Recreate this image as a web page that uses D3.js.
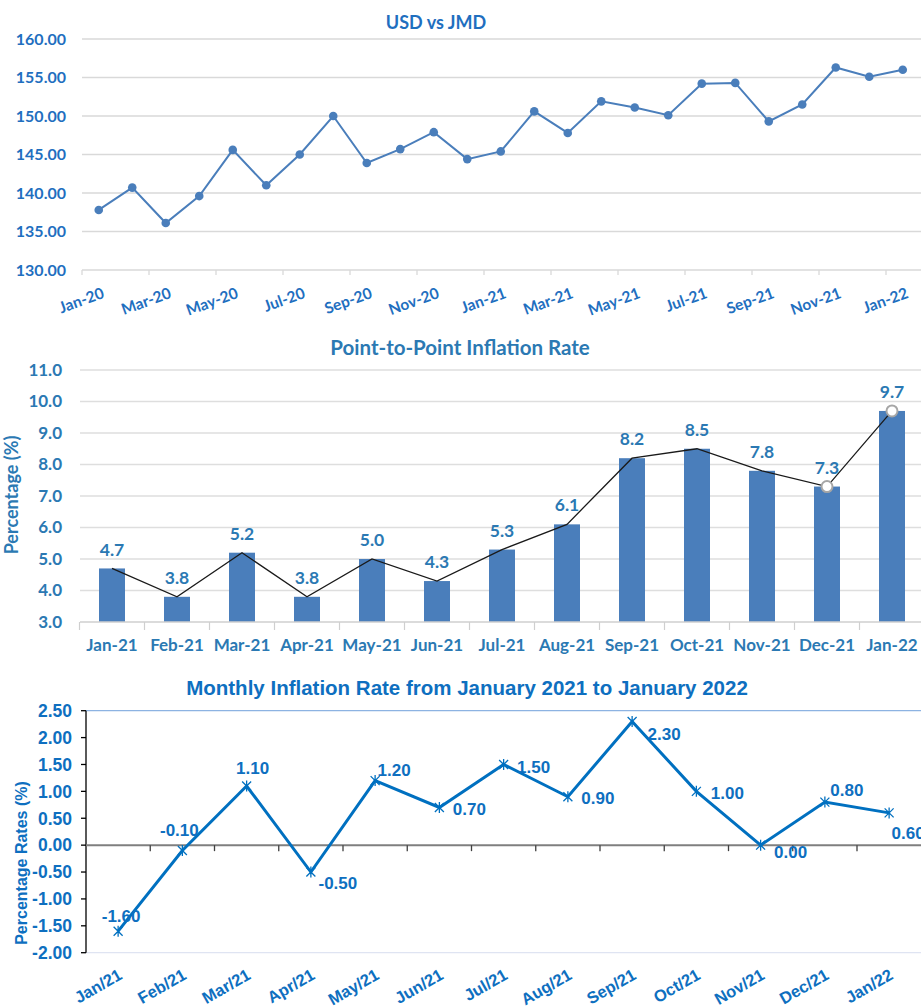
<!DOCTYPE html>
<html>
<head>
<meta charset="utf-8">
<script src="https://cdn.jsdelivr.net/npm/d3@7"></script>
<style>
  html, body { margin: 0; padding: 0; background: #ffffff; }
  svg { display: block; }
</style>
</head>
<body>
<svg id="chart" width="921" height="1007"></svg>
<script>
// ---------------- DATA ----------------
// Chart 1: USD vs JMD
const fxMonths = ["Jan-20","Feb-20","Mar-20","Apr-20","May-20","Jun-20","Jul-20","Aug-20","Sep-20","Oct-20","Nov-20","Dec-20",
                  "Jan-21","Feb-21","Mar-21","Apr-21","May-21","Jun-21","Jul-21","Aug-21","Sep-21","Oct-21","Nov-21","Dec-21","Jan-22"];
const fxRates = [137.8,140.7,136.1,139.6,145.6,141.0,145.0,150.0,143.9,145.7,147.9,144.4,
                 145.4,150.6,147.8,151.9,151.1,150.1,154.2,154.3,149.3,151.5,156.3,155.1,156.0];
const fxTicks = [130,135,140,145,150,155,160];

// Chart 2: Point-to-Point Inflation Rate
const p2pMonths = ["Jan-21","Feb-21","Mar-21","Apr-21","May-21","Jun-21","Jul-21","Aug-21","Sep-21","Oct-21","Nov-21","Dec-21","Jan-22"];
const p2pRates = [4.7,3.8,5.2,3.8,5.0,4.3,5.3,6.1,8.2,8.5,7.8,7.3,9.7];
const p2pTicks = [3,4,5,6,7,8,9,10,11];
const p2pMarked = ["Dec-21","Jan-22"];

// Chart 3: Monthly Inflation Rate
const monMonths = ["Jan/21","Feb/21","Mar/21","Apr/21","May/21","Jun/21","Jul/21","Aug/21","Sep/21","Oct/21","Nov/21","Dec/21","Jan/22"];
const monRates = [-1.60,-0.10,1.10,-0.50,1.20,0.70,1.50,0.90,2.30,1.00,0.00,0.80,0.60];
const monTicks = [-2,-1.5,-1,-0.5,0,0.5,1,1.5,2,2.5];
// label placement (style only): offsets from each point
const monLabelOffsets = [[3,-15],[-3,-21],[6,-18],[27,11],[19,-11],[30,1],[30,2],[30,1],[32,12],[31,2],[30,7],[22,-12],[19,20]];

// ---------------- DRAW ----------------
const svg = d3.select("#chart");

// ===== Chart 1 =====
(function(){
  const font = "Lato, 'Open Sans', sans-serif";
  const textCol = "#1f6fbf";
  const lineCol = "#4a7ebb";
  const g = svg.append("g");
  const x = d3.scaleBand().domain(fxMonths).range([82, 82 + 25*33.5]).padding(0);
  const y = d3.scaleLinear().domain([130,160]).range([270,39]);

  g.append("text").attr("x", 436).attr("y", 29).attr("text-anchor","middle")
    .attr("font-family", font).attr("font-weight", 700).attr("font-size", 18)
    .attr("fill", textCol).text("USD vs JMD");

  // grid
  g.selectAll("line.grid").data(fxTicks).join("line")
    .attr("x1", 82).attr("x2", 921)
    .attr("y1", d => y(d)).attr("y2", d => y(d))
    .attr("stroke", "#d9d9d9").attr("stroke-width", 1.3);

  // y labels
  g.selectAll("text.yl").data(fxTicks).join("text")
    .attr("x", 66).attr("y", d => y(d)).attr("dy","0.35em")
    .attr("text-anchor","end").attr("font-family", font).attr("font-weight",700)
    .attr("font-size", 16).attr("fill", textCol).text(d => d.toFixed(2));

  // x ticks every 2 categories
  const tickMonths = fxMonths.filter((d,i) => i % 2 === 0);
  g.selectAll("line.xt").data(tickMonths).join("line")
    .attr("x1", d => x(d)).attr("x2", d => x(d))
    .attr("y1", 270).attr("y2", 275).attr("stroke","#d9d9d9").attr("stroke-width",1.3);

  g.selectAll("text.xl").data(tickMonths).join("text")
    .attr("transform", d => `translate(${x(d)+x.bandwidth()/2+2},${285}) rotate(-20)`)
    .attr("dy","0.85em").attr("text-anchor","end")
    .attr("font-family", font).attr("font-weight",700).attr("font-size",15.5)
    .attr("fill", textCol).text(d => d);

  const line = d3.line().x((d,i) => x(fxMonths[i]) + x.bandwidth()/2).y(d => y(d));
  g.append("path").datum(fxRates).attr("d", line)
    .attr("fill","none").attr("stroke", lineCol).attr("stroke-width", 2);
  g.selectAll("circle.pt").data(fxRates).join("circle")
    .attr("cx", (d,i) => x(fxMonths[i]) + x.bandwidth()/2).attr("cy", d => y(d))
    .attr("r", 4.3).attr("fill", lineCol);
})();

// ===== Chart 2 =====
(function(){
  const font = "Lato, 'Open Sans', sans-serif";
  const textCol = "#2b79b3";
  const barCol = "#4a7ebb";
  const g = svg.append("g");
  const x = d3.scaleBand().domain(p2pMonths).range([79.5, 79.5 + 13*65]).padding(0);
  const y = d3.scaleLinear().domain([3,11]).range([622,370]);
  const bw = x.bandwidth()*0.4;

  g.append("text").attr("x", 460).attr("y", 355).attr("text-anchor","middle")
    .attr("font-family", font).attr("font-weight", 700).attr("font-size", 20.5)
    .attr("fill", textCol).text("Point-to-Point Inflation Rate");

  g.selectAll("line.grid").data(p2pTicks.filter(d => d > 3)).join("line")
    .attr("x1", 80).attr("x2", 921)
    .attr("y1", d => y(d)).attr("y2", d => y(d))
    .attr("stroke", "#dedede").attr("stroke-width", 1.3);

  g.selectAll("text.yl").data(p2pTicks).join("text")
    .attr("x", 62).attr("y", d => y(d)).attr("dy","0.35em")
    .attr("text-anchor","end").attr("font-family", font).attr("font-weight",700)
    .attr("font-size", 17).attr("fill", textCol).text(d => d.toFixed(1));

  g.append("text").attr("transform","translate(18,495) rotate(-90)")
    .attr("text-anchor","middle").attr("font-family", font).attr("font-weight",700)
    .attr("font-size", 18).attr("fill", textCol).text("Percentage (%)");

  // bars
  g.selectAll("rect.bar").data(p2pRates).join("rect")
    .attr("x", (d,i) => x(p2pMonths[i]) + x.bandwidth()/2 - bw/2)
    .attr("y", d => y(d)).attr("width", bw).attr("height", d => y(3) - y(d))
    .attr("fill", barCol);

  // axis line + separators
  g.append("line").attr("x1", 80).attr("x2", 921).attr("y1", 622).attr("y2", 622)
    .attr("stroke", "#cfcfcf").attr("stroke-width", 1.3);
  g.selectAll("line.sep").data(p2pMonths).join("line")
    .attr("x1", d => x(d)).attr("x2", d => x(d)).attr("y1", 622).attr("y2", 630)
    .attr("stroke", "#cfcfcf").attr("stroke-width", 1.2);

  g.selectAll("text.xl").data(p2pMonths).join("text")
    .attr("x", d => x(d) + x.bandwidth()/2).attr("y", 651)
    .attr("text-anchor","middle").attr("font-family", font).attr("font-weight",700)
    .attr("font-size", 17).attr("fill", textCol).text(d => d);

  const line = d3.line().x((d,i) => x(p2pMonths[i]) + x.bandwidth()/2).y(d => y(d));
  g.append("path").datum(p2pRates).attr("d", line)
    .attr("fill","none").attr("stroke", "#1a1a1a").attr("stroke-width", 1.3);

  g.selectAll("circle.mk").data(p2pRates.map((v,i) => [p2pMonths[i], v]).filter(d => p2pMarked.includes(d[0]))).join("circle")
    .attr("cx", d => x(d[0]) + x.bandwidth()/2).attr("cy", d => y(d[1]))
    .attr("r", 5.5).attr("fill", "#ffffff").attr("stroke","#a6a6a6").attr("stroke-width", 2);

  g.selectAll("text.lbl").data(p2pRates).join("text")
    .attr("x", (d,i) => x(p2pMonths[i]) + x.bandwidth()/2).attr("y", d => y(d) - 19)
    .attr("dy","0.35em").attr("text-anchor","middle").attr("font-family", font).attr("font-weight",700)
    .attr("font-size", 17.5).attr("fill", textCol).text(d => d.toFixed(1));
})();

// ===== Chart 3 =====
(function(){
  const font = "'Liberation Sans', Arial, sans-serif";
  const textCol = "#0e6fc0";
  const lineCol = "#0070c0";
  const g = svg.append("g");
  const x = d3.scaleBand().domain(monMonths).range([86, 86 + 13*64.25]).padding(0);
  const y = d3.scaleLinear().domain([-2,2.5]).range([952.7,710.7]);

  g.append("text").attr("x", 467).attr("y", 695).attr("text-anchor","middle")
    .attr("font-family", font).attr("font-weight", 700).attr("font-size", 20.5)
    .attr("fill", textCol).text("Monthly Inflation Rate from January 2021 to January 2022");

  // top & bottom border lines
  g.append("line").attr("x1", 86).attr("x2", 921).attr("y1", y(2.5)).attr("y2", y(2.5))
    .attr("stroke", "#8db3e2").attr("stroke-width", 1.3);
  g.append("line").attr("x1", 86).attr("x2", 921).attr("y1", y(-2)).attr("y2", y(-2))
    .attr("stroke", "#dfe4f2").attr("stroke-width", 1.3);

  // y axis
  g.append("line").attr("x1", 86).attr("x2", 86).attr("y1", y(2.5)).attr("y2", y(-2))
    .attr("stroke", "#000000").attr("stroke-width", 1.3);
  g.selectAll("line.yt").data(monTicks).join("line")
    .attr("x1", 81).attr("x2", 86).attr("y1", d => y(d)).attr("y2", d => y(d))
    .attr("stroke","#000000").attr("stroke-width",1.3);
  g.selectAll("text.yl").data(monTicks).join("text")
    .attr("x", 72).attr("y", d => y(d)).attr("dy","0.36em")
    .attr("text-anchor","end").attr("font-family", font).attr("font-weight",700)
    .attr("font-size", 17.5).attr("fill", textCol).text(d => d.toFixed(2));

  g.append("text").attr("transform","translate(27,863) rotate(-90)")
    .attr("text-anchor","middle").attr("font-family", font).attr("font-weight",700)
    .attr("font-size", 16).attr("fill", textCol).text("Percentage Rates (%)");

  // zero line with ticks
  g.append("line").attr("x1", 86).attr("x2", 921).attr("y1", y(0)).attr("y2", y(0))
    .attr("stroke", "#7f7f7f").attr("stroke-width", 2);
  g.selectAll("line.xt").data(monMonths.slice(1)).join("line")
    .attr("x1", d => x(d)).attr("x2", d => x(d)).attr("y1", y(0)).attr("y2", y(0)+6)
    .attr("stroke","#404040").attr("stroke-width",1.3);

  g.selectAll("text.xl").data(monMonths).join("text")
    .attr("transform", d => `translate(${x(d)+x.bandwidth()/2-2},${966}) rotate(-30)`)
    .attr("dy","0.85em").attr("text-anchor","end")
    .attr("font-family", font).attr("font-weight",700).attr("font-size",16.5)
    .attr("fill", textCol).text(d => d);

  const px = (i) => x(monMonths[i]) + x.bandwidth()/2;
  const line = d3.line().x((d,i) => px(i)).y(d => y(d));
  g.append("path").datum(monRates).attr("d", line)
    .attr("fill","none").attr("stroke", lineCol).attr("stroke-width", 3).attr("stroke-linejoin","miter");

  const star = "M-4.5,-4.5L4.5,4.5M-4.5,4.5L4.5,-4.5M0,-5.5L0,5.5";
  g.selectAll("path.mk").data(monRates).join("path")
    .attr("d", star).attr("transform", (d,i) => `translate(${px(i)},${y(d)})`)
    .attr("fill","none").attr("stroke", lineCol).attr("stroke-width", 1.3);

  g.selectAll("text.lbl").data(monRates).join("text")
    .attr("x", (d,i) => px(i) + monLabelOffsets[i][0]).attr("y", (d,i) => y(d) + monLabelOffsets[i][1])
    .attr("dy","0.36em").attr("text-anchor","middle").attr("font-family", font).attr("font-weight",700)
    .attr("font-size", 17).attr("fill", textCol).text(d => d.toFixed(2));
})();
</script>
</body>
</html>
